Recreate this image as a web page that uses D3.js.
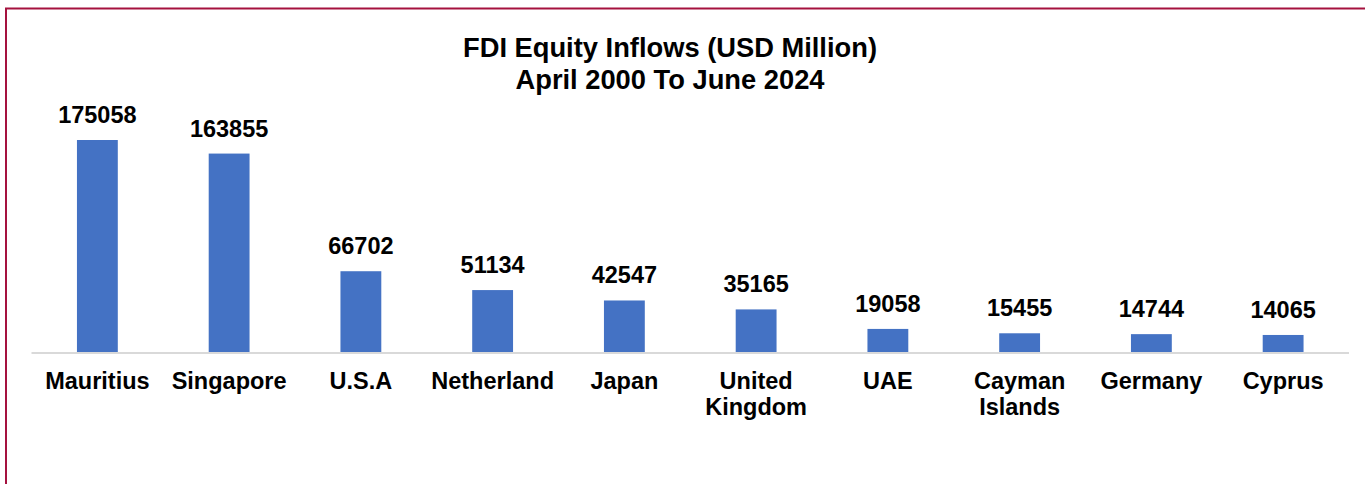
<!DOCTYPE html>
<html>
<head>
<meta charset="utf-8">
<script src="https://cdn.jsdelivr.net/npm/d3@7"></script>
<style>
  html, body { margin: 0; padding: 0; background: #fff; }
  svg { display: block; font-family: "Liberation Sans", Arial, sans-serif; }
</style>
</head>
<body>
<script>
// chart data
const countries = ["Mauritius", "Singapore", "U.S.A", "Netherland", "Japan",
  "United Kingdom", "UAE", "Cayman Islands", "Germany", "Cyprus"];
const inflows = [175058, 163855, 66702, 51134, 42547, 35165, 19058, 15455, 14744, 14065];
const titleLines = ["FDI Equity Inflows (USD Million)", "April 2000 To June 2024"];

const width = 1365, height = 484;

const svg = d3.select("body").append("svg")
  .attr("width", width)
  .attr("height", height);

// outer frame (only left + top edges show in the window)
svg.append("rect")
  .attr("x", 6)
  .attr("y", 8.5)
  .attr("width", width + 20)
  .attr("height", height + 20)
  .attr("fill", "none")
  .attr("stroke", "#a5123f")
  .attr("stroke-width", 2);

// title
svg.append("text")
  .attr("x", 670)
  .attr("y", 57)
  .attr("text-anchor", "middle")
  .attr("font-size", 27.3)
  .attr("font-weight", "bold")
  .attr("fill", "#000")
  .selectAll("tspan")
  .data(titleLines)
  .join("tspan")
  .attr("x", 670)
  .attr("dy", (d, i) => i === 0 ? 0 : 31.5)
  .text(d => d);

const baseY = 352;

const x = d3.scaleBand()
  .domain(countries)
  .range([31.5, 1349])
  .paddingInner(0.69)
  .paddingOuter(0.345);

const y = d3.scaleLinear()
  .domain([0, 200000])
  .range([baseY, baseY - 242.2]);

const data = countries.map((c, i) => ({ country: c, value: inflows[i] }));

// bars
svg.append("g")
  .selectAll("rect")
  .data(data)
  .join("rect")
  .attr("x", d => x(d.country))
  .attr("y", d => y(d.value))
  .attr("width", x.bandwidth())
  .attr("height", d => baseY - y(d.value))
  .attr("fill", "#4472c4");

// baseline
svg.append("line")
  .attr("x1", 31.5)
  .attr("x2", 1349)
  .attr("y1", baseY + 1)
  .attr("y2", baseY + 1)
  .attr("stroke", "#d9d9d9")
  .attr("stroke-width", 2);

// value labels
svg.append("g")
  .selectAll("text")
  .data(data)
  .join("text")
  .attr("x", d => x(d.country) + x.bandwidth() / 2)
  .attr("y", d => y(d.value) - 17)
  .attr("text-anchor", "middle")
  .attr("font-size", 23.5)
  .attr("font-weight", "bold")
  .attr("fill", "#000")
  .text(d => d.value);

// category labels, two-word names wrap onto two lines
const cats = svg.append("g")
  .selectAll("text")
  .data(data)
  .join("text")
  .attr("y", 389)
  .attr("text-anchor", "middle")
  .attr("font-size", 23.5)
  .attr("font-weight", "bold")
  .attr("fill", "#000");

cats.selectAll("tspan")
  .data(d => {
    const cx = x(d.country) + x.bandwidth() / 2;
    return d.country.split(" ").map((w, i) => ({ w, i, cx }));
  })
  .join("tspan")
  .attr("x", d => d.cx)
  .attr("dy", d => d.i === 0 ? 0 : 26)
  .text(d => d.w);
</script>
</body>
</html>
